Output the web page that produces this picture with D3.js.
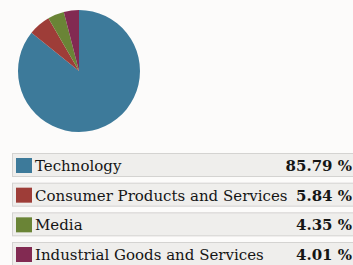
<!DOCTYPE html>
<html>
<head>
<meta charset="utf-8">
<script src="https://cdn.jsdelivr.net/npm/d3@7"></script>
<style>
  body { margin: 0; background: #fcfbfa; }
  svg { display: block; }
  .label { font-family: "DejaVu Serif", serif; font-size: 15px; fill: #151515; }
  .pct { font-family: "DejaVu Serif", serif; font-size: 15px; font-weight: bold; fill: #151515; }
</style>
</head>
<body>
<svg width="353" height="265"></svg>
<script>
const sectors = ["Technology", "Consumer Products and Services", "Media", "Industrial Goods and Services"];
const shares = [85.79, 5.84, 4.35, 4.01];
const colors = ["#3d7a9a", "#9e3d38", "#6a8436", "#822a52"];

const svg = d3.select("svg"),
      width = +svg.attr("width");

const data = sectors.map((s, i) => ({ name: s, value: shares[i], color: colors[i] }));

// Pie
const radius = 61;
const g = svg.append("g").attr("transform", "translate(79,71)");

const pie = d3.pie().sort(null).value(d => d.value);
const arc = d3.arc().innerRadius(0).outerRadius(radius);

g.selectAll("path")
  .data(pie(data))
  .enter()
  .append("path")
  .attr("d", arc)
  .attr("fill", d => d.data.color);

// Legend rows
const y = d3.scalePoint().domain(sectors).range([153, 242]);

const row = svg.selectAll(".row")
  .data(data)
  .enter()
  .append("g")
  .attr("class", "row")
  .attr("transform", d => `translate(0,${y(d.name)})`);

row.append("rect")
  .attr("x", 12.5)
  .attr("y", 0.5)
  .attr("width", 360)
  .attr("height", 23)
  .attr("fill", "#efeeec")
  .attr("stroke", "#d4d3d1");

row.append("rect")
  .attr("x", 16)
  .attr("y", 5)
  .attr("width", 16)
  .attr("height", 15)
  .attr("fill", d => d.color);

row.append("text")
  .attr("class", "label")
  .attr("x", 35)
  .attr("y", 18)
  .text(d => d.name);

row.append("text")
  .attr("class", "pct")
  .attr("x", width - 1)
  .attr("y", 18)
  .attr("text-anchor", "end")
  .text(d => d.value.toFixed(2) + " %");
</script>
</body>
</html>
